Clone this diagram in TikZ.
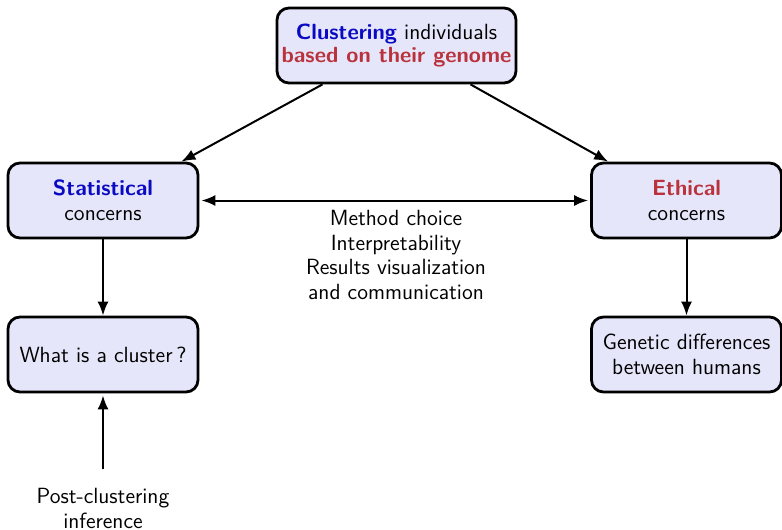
\documentclass[tikz,border=0pt]{standalone}
\usetikzlibrary{arrows.meta,calc}
\definecolor{myblue}{RGB}{10,10,195}
\definecolor{myred}{RGB}{185,50,60}
\definecolor{boxfill}{RGB}{230,230,250}
\tikzset{
  boxnode/.style={draw=black, line width=1.4pt, rounded corners=6pt, fill=boxfill,
    minimum width=95pt, minimum height=37.5pt, align=center, inner sep=2pt},
  conn/.style={line width=1pt, -{Latex[length=7pt,width=5.5pt]}},
  plain/.style={align=center}
}
\begin{document}
\begin{tikzpicture}[x=0.5pt,y=-0.5pt,font=\sffamily\fontsize{11}{12.4}\selectfont]
\useasboundingbox (0,0) rectangle (782,530);
\node[boxnode, minimum width=119.5pt] (top) at (396.5,45.5) {\textcolor{myblue}{\textbf{Clustering}} individuals\\[-1pt]\textcolor{myred}{\textbf{based on their genome}}};
\node[boxnode] (stat) at (103,200.5) {\textcolor{myblue}{\textbf{Statistical}}\\concerns};
\node[boxnode] (eth) at (686.5,200.5) {\textcolor{myred}{\textbf{Ethical}}\\concerns};
\node[boxnode] (clus) at (103,354.5) {What is a cluster\,?};
\node[boxnode] (gen) at (686.5,354.5) {Genetic differences\\between humans};
\node[plain, anchor=north] (mid) at (396,203) {Method choice\\Interpretability\\Results visualization\\and communication};
\node[plain] (post) at (103,508.5) {Post-clustering\\inference};
\draw[conn] ([xshift=-37pt]top.south) -- ([xshift=-9pt]stat.north east);
\draw[conn] ([xshift=37pt]top.south) -- ([xshift=9pt]eth.north west);
\draw[conn, {Latex[length=7pt,width=5.5pt]}-{Latex[length=7pt,width=5.5pt]}] ([xshift=1pt]stat.east) -- ([xshift=-1pt]eth.west);
\draw[conn] (stat.south) -- (clus.north);
\draw[conn] (eth.south) -- (gen.north);
\draw[conn] ([yshift=6pt]post.north) -- ([yshift=-1pt]clus.south);
\end{tikzpicture}
\end{document}
